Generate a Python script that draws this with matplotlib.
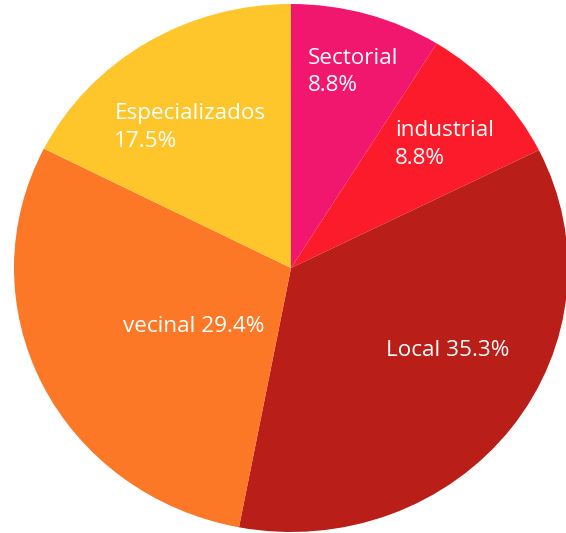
import matplotlib
matplotlib.use("Agg")
import matplotlib.pyplot as plt

# Distribution of facility types (share of total, %)
categories = ["Sectorial", "industrial", "Local", "vecinal", "Especializados"]
shares = [8.8, 8.8, 35.3, 29.4, 17.5]
colors = ["#F1176E", "#FC1B2B", "#B91F18", "#FC7726", "#FEC62A"]

# label text: two-line for the narrow slices, single line for the wide ones
label_layout = ["two", "two", "one", "one", "two"]
# label anchor points in axes data units (pie radius = 1)
label_pos = [(0.225, 0.742), (0.555, 0.468), (0.567, -0.311), (-0.350, -0.220), (-0.365, 0.532)]

W, H = 566, 533
fig = plt.figure(figsize=(W / 100, H / 100), dpi=100)
# the pie fills the figure as a slightly wide ellipse
cx, cy, rx, ry = 291, 268, 277, 264
ax = fig.add_axes([(cx - rx) / W, (H - cy - ry) / H, 2 * rx / W, 2 * ry / H])

wedges, _ = ax.pie(shares, colors=colors, startangle=90, counterclock=False,
                   wedgeprops=dict(linewidth=0))
ax.set_aspect("auto")
ax.set_xlim(-1, 1)
ax.set_ylim(-1, 1)
ax.axis("off")

for name, val, mode, (x, y) in zip(categories, shares, label_layout, label_pos):
    sep = "\n" if mode == "two" else " "
    ax.text(x, y, f"{name}{sep}{val:.1f}%", ha="center", va="center",
            multialignment="left", color="white", fontsize=16.2,
            family=["Open Sans", "DejaVu Sans"], linespacing=1.42)

fig.savefig("out.png", dpi=100)
